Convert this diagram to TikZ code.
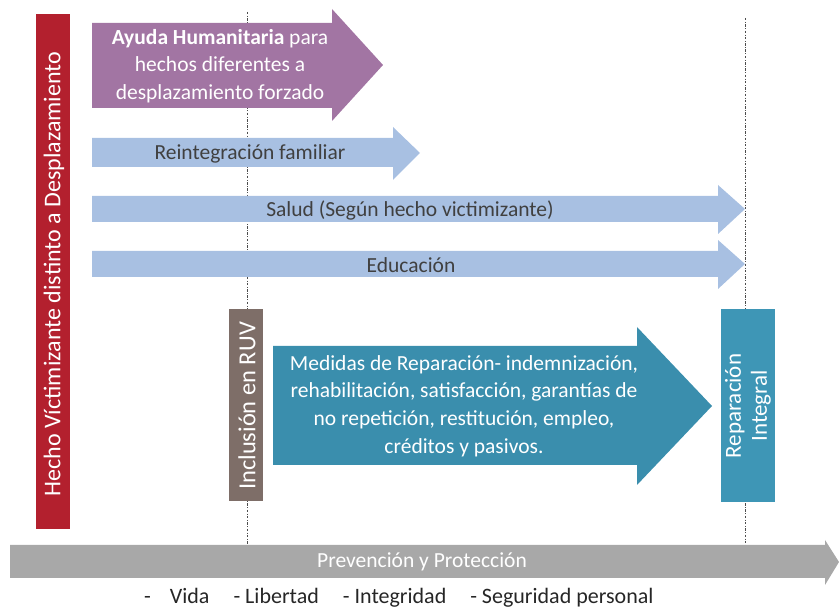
\documentclass[tikz,border=0pt]{standalone}
\usepackage{fontspec}
\setmainfont{Carlito}
\definecolor{redbar}{HTML}{B3202E}
\definecolor{purplearr}{HTML}{A275A3}
\definecolor{bluearr}{HTML}{A8C0E2}
\definecolor{tealarr}{HTML}{3A8EAD}
\definecolor{tealbox}{HTML}{3E96B6}
\definecolor{taupe}{HTML}{7E6E68}
\definecolor{grayarr}{HTML}{A8A8A8}
\definecolor{darktext}{HTML}{404040}
\begin{document}
\begin{tikzpicture}[x=1pt,y=-1pt,
  wtext/.style={text=white,align=center,inner sep=0pt},
  btext/.style={text=darktext,inner sep=0pt},
  f/.style={font=\fontsize{21.5}{27.7}\selectfont},
  vtext/.style={text=black!85,inner sep=0pt,anchor=base west,font=\fontsize{22}{26}\selectfont},
  guide/.style={draw=black!70,line width=0.7pt,dash pattern=on 2.5pt off 1.5pt on 0.8pt off 1.5pt}]
\useasboundingbox (0,0) rectangle (839,609);
% guide lines
\coordinate (g1t) at (247,12);
\coordinate (g1b) at (247,548);
\coordinate (g2t) at (745,18);
\coordinate (g2b) at (745,548);
\draw[guide] (g1t) -- (g1b);
\draw[guide] (g2t) -- (g2b);
% red bar
\fill[redbar] (36,14) rectangle (70,529);
\node[wtext,rotate=90,font=\fontsize{24}{28}\selectfont] (hecho) at (54,274) {Hecho Víctimizante distinto a Desplazamiento};
% purple arrow
\fill[purplearr] (92,23) -- (332,23) -- (332,9) -- (383,65) -- (332,121) -- (332,108) -- (92,108) -- cycle;
\node[wtext,f] (ayuda) at (220,66) {\textbf{Ayuda Humanitaria} para\\hechos diferentes a\\desplazamiento forzado};
% blue arrows
\fill[bluearr] (92,138) -- (393,138) -- (393,127) -- (420,153) -- (393,180) -- (393,167) -- (92,167) -- cycle;
\node[btext,f] (reint) at (250,154) {Reintegración familiar};
\fill[bluearr] (92,196) -- (718,196) -- (718,185) -- (745,209) -- (718,234) -- (718,222) -- (92,222) -- cycle;
\node[btext,f] (salud) at (410,210) {Salud (Según hecho victimizante)};
\fill[bluearr] (92,251) -- (718,251) -- (718,240) -- (745,264) -- (718,289) -- (718,277) -- (92,277) -- cycle;
\node[btext,f] (educ) at (411,265) {Educación};
% inclusion box
\fill[taupe] (229,309) rectangle (263,501);
\node[wtext,rotate=90,font=\fontsize{24.5}{28}\selectfont] (incl) at (247,406) {Inclusión en RUV};
% teal arrow
\fill[tealarr] (273,346) -- (637,346) -- (637,327) -- (712,406) -- (637,485) -- (637,465) -- (273,465) -- cycle;
\node[wtext,f] (medidas) at (464,406) {Medidas de Reparación- indemnización,\\rehabilitación, satisfacción, garantías de\\no repetición, restitución, empleo,\\créditos y pasivos.};
% reparacion box
\fill[tealbox] (721,309) rectangle (775,502);
\node[wtext,rotate=90,font=\fontsize{23}{26}\selectfont] (repar) at (748,406) {Reparación\\Integral};
% gray arrow
\fill[grayarr] (10,545) -- (825,545) -- (825,540) -- (839,562) -- (825,585) -- (825,578) -- (10,578) -- cycle;
\node[wtext,f] (prev) at (422,562) {Prevención y Protección};
\node[vtext] (vida) at (144,604) {-\hspace{19pt}Vida\hspace{24pt}- Libertad\hspace{24pt}- Integridad\hspace{24pt}- Seguridad personal};
\end{tikzpicture}
\end{document}
